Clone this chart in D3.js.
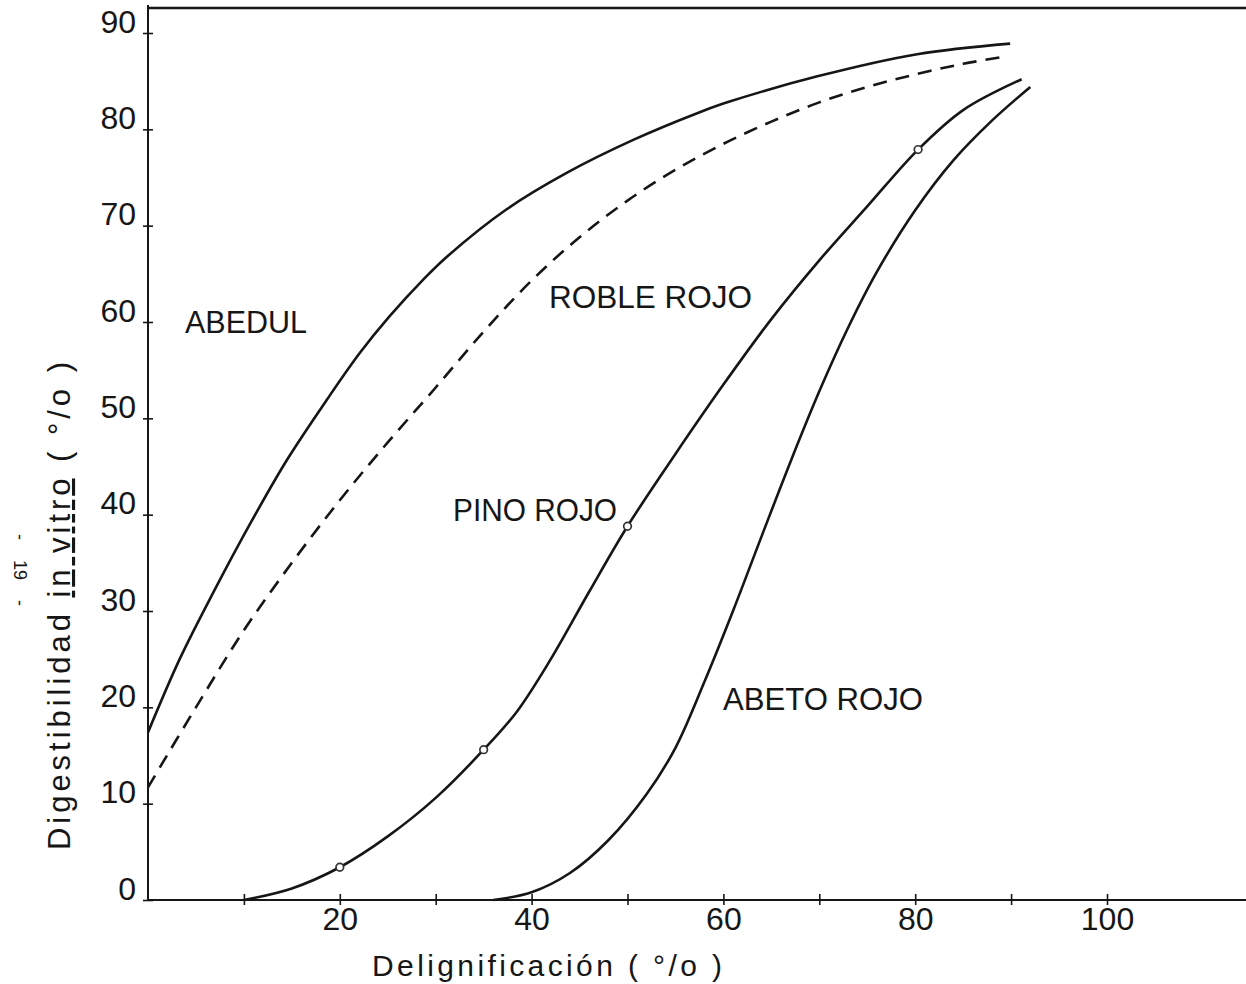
<!DOCTYPE html>
<html>
<head>
<meta charset="utf-8">
<script src="https://cdn.jsdelivr.net/npm/d3@7"></script>
<style>
  html, body { margin: 0; padding: 0; background: #fff; }
  svg { display: block; }
  text { font-family: "Liberation Sans", Arial, sans-serif; fill: #161616; }
</style>
</head>
<body>
<svg id="chart" width="1246" height="984"></svg>
<script>
// Digestibilidad in vitro vs. delignificación, four wood species
const xTicks = [10, 20, 30, 40, 50, 60, 70, 80, 90, 100];
const xTickLabels = [20, 40, 60, 80, 100];
const yTicks = [0, 10, 20, 30, 40, 50, 60, 70, 80, 90];

const abedulX = [0, 3.3, 6.8, 10.9, 14.5, 18.7, 22.1, 25.2, 28.7, 31.2, 37.4, 43.7, 50.6, 57.6, 60.4, 69.8, 80.2, 89.9];
const abedulY = [17.4, 25, 31.9, 39.5, 45.7, 52, 56.8, 60.6, 64.4, 66.8, 71.7, 75.5, 78.9, 81.8, 82.8, 85.5, 87.8, 88.9];

const robleX = [0, 5, 10, 15, 20, 25, 30, 35, 40, 45, 50, 55, 60, 65, 70, 75, 80, 85, 89.6];
const robleY = [11.7, 20, 28, 35, 41.5, 47.5, 53.2, 59, 64.3, 68.8, 72.6, 75.8, 78.5, 80.8, 82.8, 84.4, 85.7, 86.8, 87.6];

const pinoX = [10, 15, 20, 25, 30, 35, 38.5, 42, 46, 50, 55, 60, 65, 70, 75, 80.3, 85, 91.1];
const pinoY = [0, 1.2, 3.4, 6.6, 10.6, 15.6, 19.6, 25, 32, 38.8, 46.3, 53.5, 60.3, 66.4, 72, 77.9, 82, 85.2];

const pinoPointsX = [20, 35, 50, 80.3];
const pinoPointsY = [3.4, 15.6, 38.8, 77.9];

const abetoX = [36, 40, 44, 48, 52, 55, 58, 61, 64, 67, 70, 73, 76, 80, 84, 88, 92];
const abetoY = [0, 0.8, 2.8, 6.2, 11, 15.8, 22.6, 30, 37.8, 45.5, 52.8, 59.4, 65.2, 71.6, 76.8, 80.9, 84.4];

const zip = (xs, ys) => xs.map((v, i) => [v, ys[i]]);

const svg = d3.select("#chart");
const ink = "#161616";

const x = d3.scaleLinear().domain([0, 100]).range([148, 1107]);
const y = d3.scaleLinear().domain([0, 90]).range([900, 33]);

// frame: left axis, bottom axis and top border running off the right edge
svg.append("line").attr("x1", 148).attr("x2", 148).attr("y1", 5).attr("y2", y(0) + 1)
  .attr("stroke", ink).attr("stroke-width", 2);
svg.append("line").attr("x1", 147).attr("x2", 1246).attr("y1", y(0)).attr("y2", y(0))
  .attr("stroke", ink).attr("stroke-width", 2.2);
svg.append("line").attr("x1", 147).attr("x2", 1246).attr("y1", 8).attr("y2", 8)
  .attr("stroke", ink).attr("stroke-width", 2.6);

// x ticks crossing the axis
const gx = svg.append("g").attr("transform", `translate(0,${y(0)})`)
  .call(d3.axisBottom(x).tickValues(xTicks).tickSize(5).tickFormat(""));
gx.select(".domain").remove();
gx.selectAll(".tick line").attr("y1", -6).attr("y2", 5).attr("stroke", ink).attr("stroke-width", 1.6);

const gxl = svg.append("g").attr("transform", `translate(0,${y(0)})`)
  .call(d3.axisBottom(x).tickValues(xTickLabels).tickSize(0).tickFormat(d3.format("d")));
gxl.select(".domain").remove();
gxl.selectAll(".tick text").attr("dy", null).attr("y", 30)
  .style("font-size", "32px").style("font-family", "'Liberation Sans', Arial, sans-serif").attr("fill", ink);

// y ticks crossing the axis, labels sitting just above each tick
const gy = svg.append("g").attr("transform", `translate(148,0)`)
  .call(d3.axisLeft(y).tickValues(yTicks).tickSize(5).tickFormat(d3.format("d")));
gy.select(".domain").remove();
gy.selectAll(".tick line").attr("x1", 5).attr("x2", -5).attr("stroke", ink).attr("stroke-width", 1.6);
gy.selectAll(".tick text").attr("dy", null).attr("y", -1).attr("x", -12)
  .style("font-size", "32px").style("font-family", "'Liberation Sans', Arial, sans-serif").attr("fill", ink);

// curves
const line = d3.line().x(d => x(d[0])).y(d => y(d[1])).curve(d3.curveCatmullRom.alpha(0.5));
const curves = [
  { pts: zip(abedulX, abedulY), dash: null },
  { pts: zip(robleX, robleY), dash: "14,9" },
  { pts: zip(pinoX, pinoY), dash: null },
  { pts: zip(abetoX, abetoY), dash: null }
];
svg.append("g").selectAll("path").data(curves).join("path")
  .attr("d", d => line(d.pts))
  .attr("fill", "none")
  .attr("stroke", ink)
  .attr("stroke-width", 2.6)
  .attr("stroke-linecap", "butt")
  .attr("stroke-linejoin", "round")
  .attr("stroke-dasharray", d => d.dash);

// measured points on the pine curve
svg.append("g").selectAll("circle").data(zip(pinoPointsX, pinoPointsY)).join("circle")
  .attr("cx", d => x(d[0])).attr("cy", d => y(d[1])).attr("r", 3.8)
  .attr("fill", "#fff").attr("stroke", "#333").attr("stroke-width", 1.7);

// species labels
const labels = [
  { t: "ABEDUL", x: 185, y: 333, len: 122 },
  { t: "ROBLE ROJO", x: 549, y: 308, len: 203 },
  { t: "PINO ROJO", x: 453, y: 521, len: 164 },
  { t: "ABETO ROJO", x: 723, y: 710, len: 200 }
];
svg.append("g").selectAll("text").data(labels).join("text")
  .attr("x", d => d.x).attr("y", d => d.y)
  .attr("textLength", d => d.len).attr("lengthAdjust", "spacingAndGlyphs")
  .style("font-size", "32px")
  .text(d => d.t);

// axis titles
svg.append("text")
  .attr("x", 372).attr("y", 976)
  .attr("textLength", 350).attr("lengthAdjust", "spacing")
  .style("font-size", "30px")
  .text("Delignificación ( °/o )");

const yt = svg.append("text")
  .attr("transform", "translate(70,606) rotate(-90)")
  .attr("text-anchor", "middle")
  .attr("textLength", 488).attr("lengthAdjust", "spacing")
  .style("font-size", "31px");
yt.append("tspan").text("Digestibilidad ");
yt.append("tspan").style("text-decoration", "underline").text("in vitro");
yt.append("tspan").text(" ( °/o )");

// page number along the margin
svg.append("text")
  .attr("transform", "translate(14,570) rotate(90)")
  .attr("text-anchor", "middle")
  .style("font-size", "18px")
  .style("white-space", "pre")
  .text("-    19    -");
</script>
</body>
</html>
